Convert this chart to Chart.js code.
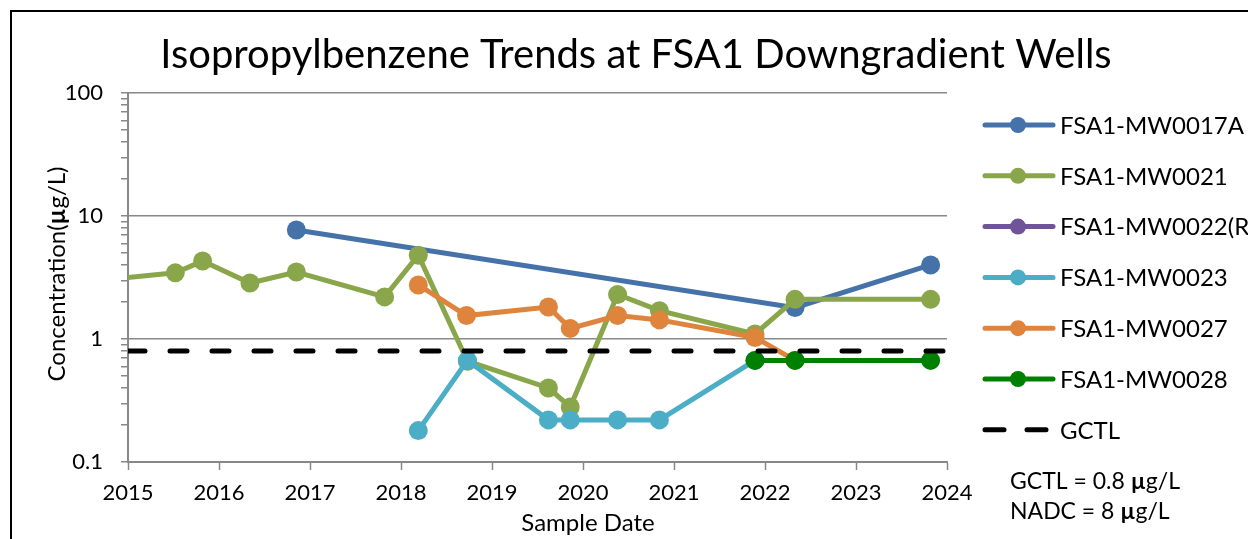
<!DOCTYPE html>
<html>
<head>
<meta charset="utf-8">
<title>Isopropylbenzene Trends at FSA1 Downgradient Wells</title>
<script src="https://cdn.jsdelivr.net/npm/chart.js@4.4.1/dist/chart.umd.min.js"></script>
<style>
  html, body { margin: 0; padding: 0; background: #fff; overflow: hidden; }
  #wrap { position: relative; width: 1248px; height: 539px; }
</style>
</head>
<body>
<div id="wrap"><canvas id="trendChart" width="1248" height="539"></canvas></div>
<script>
// Sample dates are decimal years, concentrations in µg/L
const wellNames = ['FSA1-MW0017A', 'FSA1-MW0021', 'FSA1-MW0022(R)', 'FSA1-MW0023', 'FSA1-MW0027', 'FSA1-MW0028'];

const dates17A = [2016.85, 2022.33, 2023.82];
const conc17A = [7.7, 1.8, 4.0];

const dates21 = [2014.8, 2015.52, 2015.82, 2016.34, 2016.85, 2017.82, 2018.19, 2018.73, 2019.62, 2019.86, 2020.38, 2020.84, 2021.89, 2022.33, 2023.82];
const conc21 = [3.05, 3.45, 4.3, 2.85, 3.5, 2.2, 4.8, 0.66, 0.40, 0.28, 2.3, 1.7, 1.1, 2.1, 2.1];

const dates22R = [];
const conc22R = [];

const dates23 = [2018.19, 2018.73, 2019.62, 2019.86, 2020.38, 2020.84, 2021.89];
const conc23 = [0.18, 0.67, 0.22, 0.22, 0.22, 0.22, 0.67];

const dates27 = [2018.19, 2018.72, 2019.62, 2019.86, 2020.38, 2020.84, 2021.89, 2022.33];
const conc27 = [2.75, 1.55, 1.82, 1.22, 1.55, 1.43, 1.03, 0.67];

const dates28 = [2021.89, 2022.33, 2023.82];
const conc28 = [0.67, 0.67, 0.67];

// Screening levels
const gctlValue = 0.8;
const nadcValue = 8;

// Axis ranges and labels
const firstYear = 2015;
const lastYear = 2024;
const concMin = 0.1;
const concMax = 100;
const concLabels = ['0.1', '1', '10', '100'];

const wellColors = ['#4672AA', '#8AA64A', '#6F5597', '#4BADC6', '#DE843D', '#008000'];
const gridGray = '#888888';
const fontFamily = 'Lato, "Open Sans", sans-serif';

const wellSeries = [
    [dates17A, conc17A],
    [dates21, conc21],
    [dates22R, conc22R],
    [dates23, conc23],
    [dates27, conc27],
    [dates28, conc28]
];

function toPoints(dates, values) {
    return dates.map((d, i) => ({ x: d, y: values[i] }));
}

// later wells sit on top, GCTL dashes on top of everything
const datasets = wellSeries.map((s, i) => ({
    label: wellNames[i],
    data: toPoints(s[0], s[1]),
    borderColor: wellColors[i],
    backgroundColor: wellColors[i],
    borderWidth: 5,
    pointRadius: 9.5,
    pointHoverRadius: 9.5,
    pointBorderWidth: 0,
    tension: 0,
    clip: { left: 0, top: false, right: false, bottom: false },
    order: wellSeries.length - i
}));

datasets.push({
    label: 'GCTL',
    data: toPoints([firstYear, lastYear], [gctlValue, gctlValue]),
    borderColor: '#000',
    borderWidth: 5,
    borderDash: [17, 25],
    borderCapStyle: 'round',
    pointRadius: 0,
    order: 0
});

// decade ticks plus the 2..9 minor ticks
function logTicks(min, max) {
    const out = [];
    for (let e = Math.round(Math.log10(min)); e < Math.round(Math.log10(max)); e++) {
        for (let m = 1; m < 10; m++) out.push(+(m * Math.pow(10, e)).toPrecision(3));
    }
    out.push(max);
    return out;
}

function isDecade(v) {
    const l = Math.log10(v);
    return Math.abs(l - Math.round(l)) < 1e-6;
}

// text with some bold pieces (the µ sign)
function drawRich(ctx, parts, x, y, size, align) {
    const fonts = parts.map(p => (p.bold ? 'bold ' : '') + size + 'px ' + fontFamily);
    const widths = parts.map((p, i) => { ctx.font = fonts[i]; return ctx.measureText(p.text).width; });
    const total = widths.reduce((a, b) => a + b, 0);
    let cx = align === 'center' ? x - total / 2 : x;
    ctx.textAlign = 'left';
    parts.forEach((p, i) => {
        ctx.font = fonts[i];
        ctx.fillText(p.text, cx, y);
        cx += widths[i];
    });
}

const decorPlugin = {
    id: 'decor',
    beforeDraw(chart) {
        const ctx = chart.ctx;
        ctx.save();
        ctx.fillStyle = '#fff';
        ctx.fillRect(0, 0, chart.width, chart.height);
        ctx.strokeStyle = '#000';
        ctx.lineWidth = 2;
        ctx.strokeRect(11, 11, chart.width + 40, chart.height + 40);
        ctx.restore();
    },
    afterDraw(chart) {
        const ctx = chart.ctx;
        ctx.save();
        ctx.fillStyle = '#000';

        // chart title
        ctx.font = '40px ' + fontFamily;
        ctx.textAlign = 'center';
        ctx.textBaseline = 'alphabetic';
        ctx.fillText('Isopropylbenzene Trends at FSA1 Downgradient Wells', 636, 68);

        // axis titles
        ctx.textBaseline = 'middle';
        drawRich(ctx, [{ text: 'Sample Date' }], 588, 523, 24, 'center');
        ctx.save();
        ctx.translate(57, 274);
        ctx.rotate(-Math.PI / 2);
        drawRich(ctx, [{ text: 'Concentration(' }, { text: 'µ', bold: true }, { text: 'g/L)' }], 0, 0, 24, 'center');
        ctx.restore();

        // legend
        const rowTop = 125;
        const rowStep = 50.8;
        chart.data.datasets.forEach((ds, i) => {
            const y = rowTop + i * rowStep;
            ctx.lineWidth = 5;
            ctx.strokeStyle = ds.borderColor;
            ctx.lineCap = 'round';
            ctx.beginPath();
            if (ds.borderDash) {
                ctx.moveTo(985, y); ctx.lineTo(1004, y);
                ctx.moveTo(1027, y); ctx.lineTo(1046, y);
            } else {
                ctx.moveTo(985, y); ctx.lineTo(1053, y);
            }
            ctx.stroke();
            if (!ds.borderDash) {
                ctx.fillStyle = ds.backgroundColor;
                ctx.beginPath();
                ctx.arc(1018, y, 8, 0, Math.PI * 2);
                ctx.fill();
            }
            ctx.fillStyle = '#000';
            ctx.font = '24px ' + fontFamily;
            ctx.textAlign = 'left';
            ctx.fillText(ds.label, 1060, y + 1);
        });

        // screening level notes
        drawRich(ctx, [{ text: 'GCTL = ' + gctlValue + ' ' }, { text: 'µ', bold: true }, { text: 'g/L' }], 1010, 482, 23, 'left');
        drawRich(ctx, [{ text: 'NADC = ' + nadcValue + ' ' }, { text: 'µ', bold: true }, { text: 'g/L' }], 1010, 512, 23, 'left');
        ctx.restore();
    }
};

const canvas = document.getElementById('trendChart');

new Chart(canvas.getContext('2d'), {
    type: 'line',
    data: { datasets: datasets },
    plugins: [decorPlugin],
    options: {
        responsive: false,
        animation: false,
        events: [],
        layout: { padding: { top: 93, right: 301, bottom: 0, left: 0 } },
        plugins: {
            legend: { display: false },
            title: { display: false },
            tooltip: { enabled: false }
        },
        scales: {
            x: {
                type: 'linear',
                min: firstYear,
                max: lastYear,
                afterFit: scale => { scale.height = 77; },
                ticks: {
                    stepSize: 1,
                    padding: 10,
                    color: '#000',
                    font: { family: fontFamily, size: 22 },
                    callback: v => String(v)
                },
                grid: {
                    drawOnChartArea: false,
                    tickLength: 8,
                    tickColor: gridGray,
                    tickWidth: 1.5
                },
                border: { color: gridGray, width: 2 }
            },
            y: {
                type: 'logarithmic',
                min: concMin,
                max: concMax,
                afterFit: scale => { scale.width = 128; },
                afterBuildTicks: scale => {
                    scale.ticks = logTicks(concMin, concMax).map(v => ({ value: v }));
                },
                ticks: {
                    autoSkip: false,
                    padding: 18,
                    color: '#000',
                    font: { family: fontFamily, size: 22 },
                    callback: v => isDecade(v) ? concLabels[Math.round(Math.log10(v / concMin))] : ''
                },
                grid: {
                    color: c => (c.tick && isDecade(c.tick.value)) ? gridGray : 'rgba(0,0,0,0)',
                    lineWidth: 1.5,
                    tickLength: 7,
                    tickColor: gridGray,
                    tickWidth: 1.5
                },
                border: { color: gridGray, width: 2 }
            }
        }
    }
});
</script>
</body>
</html>
